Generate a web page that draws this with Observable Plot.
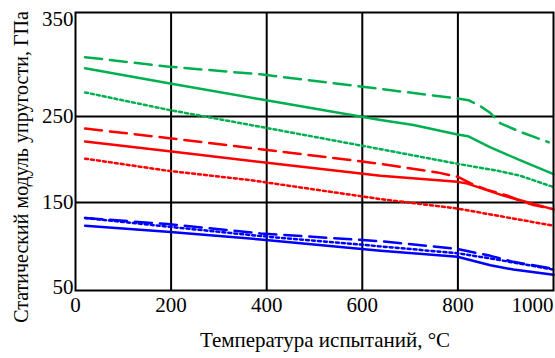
<!DOCTYPE html>
<html><head><meta charset="utf-8">
<script src="https://cdn.jsdelivr.net/npm/d3@7"></script>
<script src="https://cdn.jsdelivr.net/npm/@observablehq/plot@0.6"></script>
<style>body{margin:0;background:#fff} svg{display:block}</style>
</head><body><div id="chart"></div>
<script>
const xTicks = [0, 200, 400, 600, 800, 1000];
const yTicks = [50, 150, 250, 350];
const xTitle = "Температура испытаний, °C";
const yTitle = "Статический модуль упругости, ГПа";

// [temperature °C, modulus GPa]
const greenDashed = [[20,319],[192,308],[387,299],[638,282],[799,271],[822,269],[847,262],[868,254],[889,242],[931,232],[990,220]];
const greenSolid  = [[20,306],[192,289],[387,270],[638,246],[707,240],[799,229],[822,227],[868,214],[931,199],[1000,183]];
const greenDotted = [[20,278],[192,258],[387,238],[638,212],[799,195],[883,187],[931,181],[1000,168]];
const redDashed   = [[20,236],[192,225],[387,212],[638,195],[757,185],[799,180],[828,172],[860,165],[904,158],[931,152],[958,147],[985,144],[1000,142]];
const redSolid    = [[20,221],[192,210],[387,197],[638,181],[799,174],[820,172],[895,158],[1000,142]];
const redDotted   = [[20,201],[192,187],[366,176],[638,154],[799,143],[1000,123]];
const blueDashed  = [[20,132],[192,125],[387,114],[638,105],[799,96],[868,88],[916,81],[1000,73]];
const blueDotted  = [[20,132],[192,122],[387,111],[638,99],[799,91],[868,85],[1000,72]];
const blueSolid   = [[20,123],[192,116],[387,107],[638,94],[799,87],[868,77],[916,72],[1000,66]];

const GREEN = "#00b050", RED = "#ff0000", BLUE = "#0000ff";
const DASH = "17,8", DOT = "3,3";
const series = [
  {data: greenDashed, color: GREEN, dash: DASH},
  {data: greenSolid,  color: GREEN, dash: "none"},
  {data: greenDotted, color: GREEN, dash: DOT},
  {data: redDashed,   color: RED,   dash: DASH},
  {data: redSolid,    color: RED,   dash: "none"},
  {data: redDotted,   color: RED,   dash: DOT},
  {data: blueDashed,  color: BLUE,  dash: DASH},
  {data: blueDotted,  color: BLUE,  dash: DOT},
  {data: blueSolid,   color: BLUE,  dash: "none"}
];

const lineMarks = series.map(s => Plot.line(s.data, {
  x: d => d[0], y: d => d[1], stroke: s.color, strokeWidth: 2.5,
  strokeDasharray: s.dash
}));

const fmt = d => String(d);
const svg = Plot.plot({
  width: 555, height: 358,
  marginLeft: 75, marginRight: 2, marginTop: 12, marginBottom: 68,
  style: {fontFamily: "'Liberation Serif', 'Times New Roman', serif", fontSize: "21px", color: "black", background: "white", overflow: "visible"},
  x: {domain: [0, 1000]},
  y: {domain: [47.7, 370.9]},
  marks: [
    Plot.ruleX([200, 400, 600, 800], {stroke: "black", strokeWidth: 2}),
    Plot.ruleY([150, 250], {stroke: "black", strokeWidth: 2}),
    ...lineMarks,
    Plot.frame({stroke: "black", strokeWidth: 2}),
    Plot.axisX(xTicks.slice(0, -1), {tickSize: 0, tickPadding: 7, tickFormat: fmt, label: null}),
    Plot.axisX(xTicks.slice(-1), {tickSize: 0, tickPadding: 7, tickFormat: fmt, textAnchor: "end", label: null}),
    Plot.axisY([350], {tickSize: 0, tickPadding: 2, dy: -11, tickFormat: fmt, label: null}),
    Plot.axisY([150, 250], {tickSize: 0, tickPadding: 2, tickFormat: fmt, label: null}),
    Plot.axisY([50], {tickSize: 0, tickPadding: 2, dy: -1, tickFormat: fmt, label: null})
  ]
});

const s = d3.select(svg);
s.append("text").attr("x", 325).attr("y", 347).attr("text-anchor", "middle")
  .attr("font-size", 21).attr("fill", "black").text(xTitle);
s.append("text").attr("transform", "translate(28,167) rotate(-90)").attr("text-anchor", "middle")
  .attr("font-size", 20).attr("fill", "black").text(yTitle);

document.getElementById("chart").appendChild(svg);
</script>
</body></html>
